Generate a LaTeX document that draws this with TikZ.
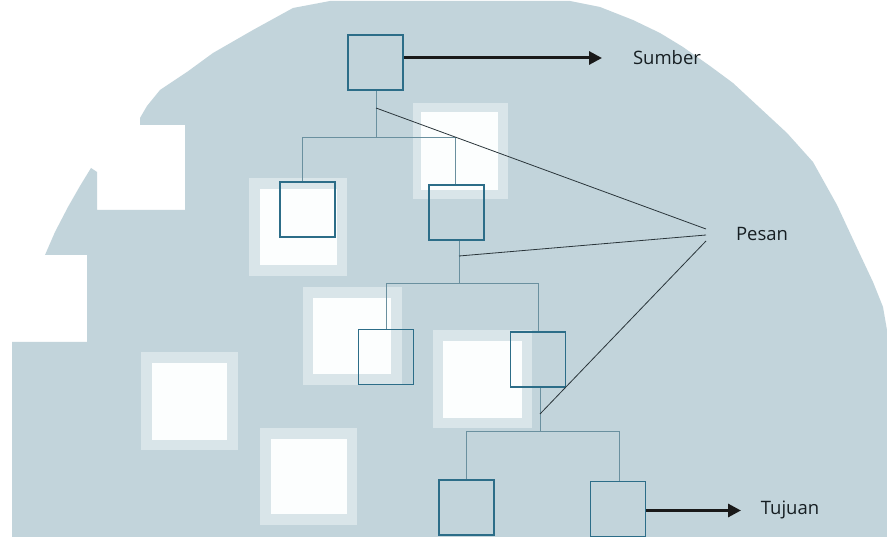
\documentclass[tikz,border=0pt]{standalone}
\usepackage{fontspec}
\setmainfont{Open Sans}
\usetikzlibrary{arrows.meta,calc}
\definecolor{bg}{HTML}{C2D4DB}
\definecolor{edgefz}{HTML}{D9E5E9}
\definecolor{holec}{HTML}{FCFEFE}
\definecolor{boxc}{HTML}{2C6D88}
\definecolor{treec}{HTML}{6A909F}
\definecolor{msgc}{HTML}{2A353A}
\definecolor{txtc}{HTML}{161E22}
\tikzset{
  box/.style={draw=boxc, line width=1.8pt, minimum width=55pt, minimum height=55pt, inner sep=0pt},
  tree/.style={draw=treec, line width=0.9pt},
  msg/.style={draw=msgc, line width=0.8pt},
  arr/.style={draw=black!90, line width=3pt, -{Triangle[length=13pt,width=13pt]}},
  lbl/.style={font=\fontsize{18.5}{20}\selectfont, text=txtc, inner sep=0pt},
  fuzz/.style={fill=edgefz},
  hole/.style={fill=holec},
}
\begin{document}
\begin{tikzpicture}[x=1pt,y=-1pt]
\fill[white] (0,0) rectangle (887,537);
\useasboundingbox (0,0) rectangle (887,537);
% pixelated background silhouette
\fill[bg] (12,537) -- (12,342) -- (87,342) -- (87,255) -- (45,255) -- (55,232) -- (68,207) -- (80,186) -- (91,168) -- (97,172) -- (97,210) -- (185,210) -- (185,125) -- (140,125) -- (140,118) -- (147,106) -- (160,90) -- (187,72) -- (213,53) -- (253,30) -- (293,8) -- (330,1) -- (570,1) -- (600,7) -- (633,20) -- (660,33) -- (683,47) -- (710,66) -- (733,83) -- (760,108) -- (787,133) -- (813,162) -- (837,205) -- (857,248) -- (873,282) -- (883,307) -- (887,330) -- (887,537) -- cycle;
% white squares
\fill[fuzz] (413,103) rectangle (508,199); \fill[hole] (421,112) rectangle (498,190);
\fill[fuzz] (249,178) rectangle (347,276); \fill[hole] (260,189) rectangle (337,265);
\fill[fuzz] (303,287) rectangle (402,385); \fill[hole] (313,298) rectangle (391,374);
\fill[fuzz] (433,330) rectangle (532,428); \fill[hole] (443,341) rectangle (522,418);
\fill[fuzz] (141,352) rectangle (238,450); \fill[hole] (152,363) rectangle (227,440);
\fill[fuzz] (260,428) rectangle (357,525); \fill[hole] (271,439) rectangle (347,514);
% boxes
\node[box] (top) at (375.5,62.5) {};
\node[box] (l2a) at (307.5,209.5) {};
\node[box] (l2b) at (456.5,212.5) {};
\node[box] (l3a) at (386,357) {};
\node[box] (l3b) at (538,359.5) {};
\node[box] (l4a) at (466.5,507.5) {};
\node[box] (l4b) at (618,509) {};
% labels
\node[lbl] (sumber) at (667,58) {Sumber};
\node[lbl] (pesan) at (762,234) {Pesan};
\node[lbl] (tujuan) at (790,510) {Tujuan};
% junction coordinates
\coordinate (j1) at (376,137);
\coordinate (j2) at (459,283);
\coordinate (j3) at (540,431);
\coordinate (p1) at (376,108);
\coordinate (p2) at (459,256);
\coordinate (p3) at (540,414);
\coordinate (q1) at (706,229);
\coordinate (q2) at (706,235);
\coordinate (q3) at (706,241);
\coordinate (sa) at (602,58);
\coordinate (ta) at (741,510.5);
% tree connectors
\draw[tree] (top.south -| j1) -- (j1);
\draw[tree] ([xshift=-5.5pt]l2a.north) -- ([xshift=-5.5pt]l2a.north |- j1) -- ([xshift=-1.5pt]l2b.north |- j1) -- ([xshift=-1.5pt]l2b.north);
\draw[tree] (l2b.south -| j2) -- (j2);
\draw[tree] (l3a.north) -- (l3a.north |- j2) -- (l3b.north |- j2) -- (l3b.north);
\draw[tree] (l3b.south -| j3) -- (j3);
\draw[tree] (l4a.north) -- (l4a.north |- j3) -- ([xshift=1pt]l4b.north |- j3) -- ([xshift=1pt]l4b.north);
% message lines
\draw[msg] (p1) -- (q1);
\draw[msg] (p2) -- (q2);
\draw[msg] (p3) -- (q3);
% arrows
\draw[arr] (top.east |- sa) -- (sa);
\draw[arr] (l4b.east |- ta) -- (ta);
\end{tikzpicture}
\end{document}
